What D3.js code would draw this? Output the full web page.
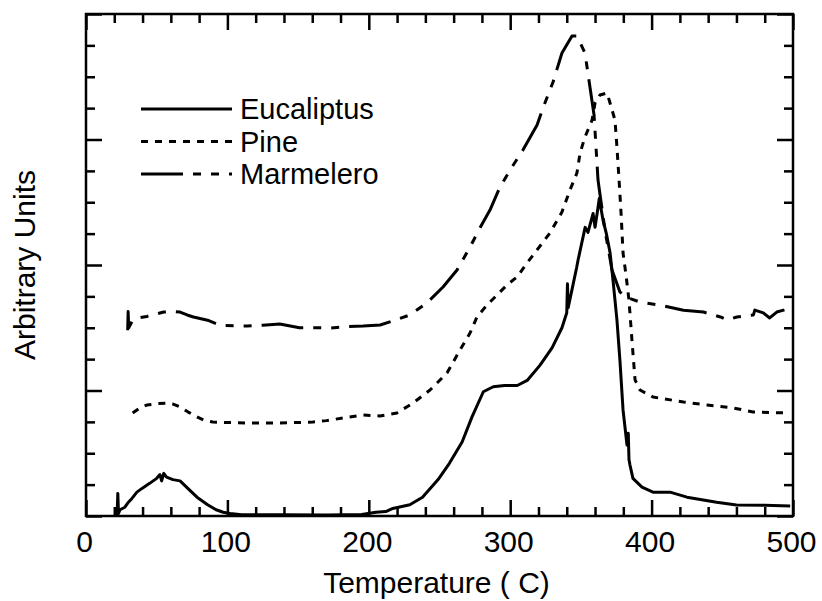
<!DOCTYPE html>
<html>
<head>
<meta charset="utf-8">
<script src="https://cdn.jsdelivr.net/npm/d3@7"></script>
<style>
body { margin: 0; background: #fff; }
text { font-family: "Liberation Sans", Arial, Helvetica, sans-serif; fill: #000; }
</style>
</head>
<body>
<div id="chart"></div>
<script>
// [temperature C, arbitrary units]
var eucaliptus = [[22,0],[22.5,0.18],[23,0.02],[24,0.05],[27.5,0.07],[30,0.11],[32.5,0.14],[36,0.19],[39.6,0.22],[45,0.26],[50,0.30],[52.3,0.33],[53.5,0.28],[55,0.34],[57,0.31],[61.5,0.29],[66.5,0.28],[72,0.22],[78.5,0.15],[86,0.09],[92,0.05],[97,0.03],[102,0.02],[110,0.01],[140,0.01],[170,0.008],[195,0.012],[205,0.03],[212,0.035],[217,0.06],[229,0.09],[238,0.15],[249,0.29],[257,0.42],[266,0.59],[273,0.79],[281,0.99],[288,1.03],[296,1.04],[305,1.04],[312,1.08],[321,1.20],[329.6,1.34],[336.6,1.50],[340,1.62],[340.5,1.85],[341,1.66],[344,1.82],[347,1.98],[348,2.04],[353,2.30],[355,2.26],[358.6,2.41],[360,2.30],[362,2.45],[363,2.53],[365.6,2.36],[368,2.25],[370.6,2.10],[372.7,1.88],[375.5,1.56],[377.6,1.24],[379.8,0.845],[382.6,0.566],[383.5,0.66],[384,0.45],[384.7,0.406],[386.8,0.30],[393.2,0.23],[401,0.19],[413,0.19],[425,0.15],[446,0.11],[460,0.088],[480,0.085],[498,0.08]];

var pine = [[33,0.82],[38,0.86],[43,0.884],[50,0.895],[57.3,0.90],[62,0.89],[66.5,0.869],[72,0.83],[78.5,0.789],[84,0.76],[89.8,0.749],[100,0.745],[113.9,0.741],[125,0.74],[137.2,0.741],[150,0.745],[160.5,0.749],[170,0.76],[181.8,0.781],[195.9,0.805],[207.9,0.797],[219.9,0.821],[231.3,0.90],[243.3,1.004],[255.3,1.139],[264.5,1.323],[271.6,1.458],[276.5,1.586],[283.6,1.681],[290.7,1.761],[297.7,1.841],[304.8,1.904],[311.9,2.016],[319,2.12],[328.1,2.255],[336.6,2.422],[342.3,2.598],[347.2,2.733],[349.4,2.892],[352.9,3.02],[357.9,3.155],[360,3.291],[363.5,3.355],[368.5,3.371],[370.6,3.291],[374.1,3.155],[375.5,2.94],[377,2.677],[378.4,2.414],[379.8,2.096],[381.9,1.92],[384,1.721],[386.1,1.402],[388.3,1.084],[391.8,1.004],[401,0.948],[422.5,0.908],[439.2,0.885],[457.6,0.861],[471.7,0.829],[495.8,0.821]];

var marmelero = [[29.5,1.48],[29.8,1.63],[30.2,1.50],[33,1.56],[38,1.58],[43,1.59],[50,1.61],[55,1.625],[62,1.63],[66.5,1.625],[72,1.60],[76,1.586],[86,1.56],[95,1.52],[105,1.515],[114,1.514],[125,1.52],[137,1.53],[151,1.50],[162,1.50],[173,1.498],[185,1.51],[196,1.514],[208,1.522],[217,1.554],[229,1.602],[241,1.697],[252.5,1.825],[262.4,1.96],[271.6,2.143],[278.6,2.295],[285.7,2.438],[292.8,2.622],[301.3,2.781],[309,2.916],[319,3.116],[323.2,3.251],[330.3,3.458],[336.6,3.689],[343.7,3.825],[347.2,3.825],[352.9,3.689],[356.4,3.418],[359.3,3.195],[362.1,2.677],[367,2.279],[372,1.96],[377.6,1.785],[384,1.735],[391.8,1.705],[406,1.68],[422.5,1.64],[436.7,1.625],[448.7,1.586],[453.7,1.562],[460.3,1.586],[472,1.602],[473,1.641],[479,1.618],[483.5,1.578],[488.5,1.625],[496,1.649],[500,1.655]];

var seriesNames = ["Eucaliptus", "Pine", "Marmelero"];
var xMajor = [0, 100, 200, 300, 400, 500];
var xMinor = d3.range(0, 501, 20).filter(function(d){ return d % 100 != 0; });
var yMajor = [0, 1, 2, 3, 4];
var yMinor = d3.range(0, 4.01, 0.25).filter(function(d){ return d % 1 != 0; });

var margin = {top: 14, right: 29, bottom: 85, left: 86},
    width = 707, height = 502;

var svg = d3.select("#chart").append("svg")
    .attr("width", width + margin.left + margin.right)
    .attr("height", height + margin.top + margin.bottom)
  .append("g")
    .attr("transform", "translate(" + margin.left + "," + margin.top + ")");

var x = d3.scaleLinear().domain([0, 500]).range([0, width]);
var y = d3.scaleLinear().domain([0, 4]).range([height, 0]);

var none = function(){ return ""; };

// ticks point inward on all four sides
function ticks(axis, pos){
  var g = svg.append("g").attr("transform", pos).call(axis);
  g.select(".domain").remove();
  g.selectAll("line").attr("stroke", "#000").attr("stroke-width", 2.5);
  return g;
}

var bottom = ticks(d3.axisBottom(x).tickValues(xMajor).tickSize(-16).tickFormat(d3.format("d")), "translate(0," + height + ")");
bottom.selectAll("text")
    .attr("y", 36).attr("dy", null).attr("dx", -2)
    .style("font-size", "30px").style("font-family", "'Liberation Sans', Arial, sans-serif");
ticks(d3.axisBottom(x).tickValues(xMinor).tickSize(-9).tickFormat(none), "translate(0," + height + ")");
ticks(d3.axisTop(x).tickValues(xMajor).tickSize(-16).tickFormat(none), "translate(0,0)");
ticks(d3.axisTop(x).tickValues(xMinor).tickSize(-9).tickFormat(none), "translate(0,0)");
ticks(d3.axisLeft(y).tickValues(yMajor).tickSize(-16).tickFormat(none), "translate(0,0)");
ticks(d3.axisLeft(y).tickValues(yMinor).tickSize(-9).tickFormat(none), "translate(0,0)");
ticks(d3.axisRight(y).tickValues(yMajor).tickSize(-16).tickFormat(none), "translate(" + width + ",0)");
ticks(d3.axisRight(y).tickValues(yMinor).tickSize(-9).tickFormat(none), "translate(" + width + ",0)");

svg.append("rect")
    .attr("width", width).attr("height", height)
    .attr("fill", "none").attr("stroke", "#000").attr("stroke-width", 2.5);

var line = d3.line()
    .x(function(d){ return x(d[0]); })
    .y(function(d){ return y(d[1]); });

var dashes = ["none", "7,7", "42,10,8,10,8,10"];
var data = [eucaliptus, pine, marmelero];

svg.selectAll(".series")
    .data(data)
  .enter().append("path")
    .attr("class", "series")
    .attr("d", line)
    .attr("fill", "none")
    .attr("stroke", "#000")
    .attr("stroke-width", 3)
    .attr("stroke-linejoin", "round")
    .attr("stroke-dasharray", function(d, i){ return dashes[i]; });

// legend
var legend = svg.selectAll(".legend")
    .data(seriesNames)
  .enter().append("g")
    .attr("class", "legend")
    .attr("transform", function(d, i){ return "translate(55," + (95 + i * 32.5) + ")"; });

legend.append("line")
    .attr("x1", 0).attr("x2", 91)
    .attr("stroke", "#000").attr("stroke-width", 2.8)
    .attr("stroke-dasharray", function(d, i){ return dashes[i]; });

legend.append("text")
    .attr("x", 99).attr("y", 10)
    .style("font-size", "29px")
    .text(function(d){ return d; });

svg.append("text")
    .attr("x", width / 2 - 3).attr("y", 579)
    .attr("text-anchor", "middle")
    .style("font-size", "30px")
    .text("Temperature ( C)");

svg.append("text")
    .attr("transform", "translate(-51," + (height / 2) + ") rotate(-90)")
    .attr("text-anchor", "middle")
    .style("font-size", "30px")
    .text("Arbitrary Units");
</script>
</body>
</html>
